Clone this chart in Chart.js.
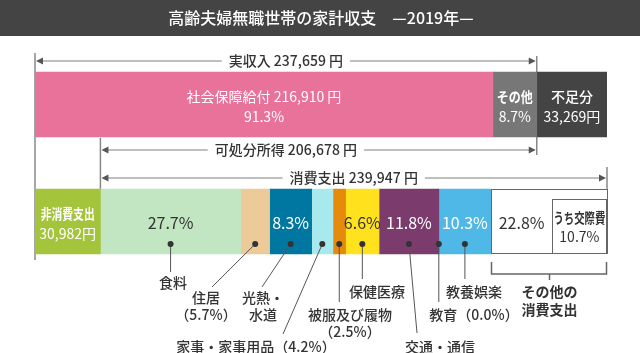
<!DOCTYPE html>
<html lang="ja">
<head>
<meta charset="utf-8">
<title>高齢夫婦無職世帯の家計収支</title>
<script src="https://cdn.jsdelivr.net/npm/chart.js@4.4.1/dist/chart.umd.min.js"></script>
<style>
  html, body { margin: 0; padding: 0; background: #fff; }
  canvas { display: block; }
</style>
</head>
<body>
<canvas id="budgetChart" width="640" height="353"></canvas>
<script>
// 高齢夫婦無職世帯の家計収支（2019年）

// 収入側（円）
const incomeLabels = ['社会保障給付', 'その他', '不足分'];
const incomeValues = [216910, 20749, 33269];
const incomeShares = [91.3, 8.7];
const realIncome = 237659;
const disposableIncome = 206678;

// 支出側（円・消費支出に占める割合 %）
const nonConsumption = 30982;
const consumptionTotal = 239947;
const consumptionLabels = ['食料', '住居', '光熱・水道', '家事・家事用品', '被服及び履物', '保健医療', '交通・通信', '教育', '教養娯楽', 'その他の消費支出', 'うち交際費'];
const consumptionShares = [27.7, 5.7, 8.3, 4.2, 2.5, 6.6, 11.8, 0.0, 10.3, 12.1, 10.7];
const otherConsumptionShare = 22.8;

// 色
const incomeColors = ['#e8729a', '#777777', '#444444'];
const nonConsumptionColor = '#a3c43b';
const consumptionColors = ['#c2e5c2', '#edcb98', '#0077a0', '#a8e9ee', '#e68a0b', '#ffe11e', '#7b3c6d', '#999999', '#4fb8e7', '#ffffff', '#ffffff'];

const FONT_FAMILY = '"Noto Sans CJK JP", "Noto Sans", sans-serif';
const font = (size, weight) => `${weight || 400} ${size}px ${FONT_FAMILY}`;
const fmt = v => v.toLocaleString('ja-JP');
const pct = v => v.toFixed(1) + '%';

// バー内の文字（fit: 見出しの最大幅）
const insideText = {
    '社会保障給付': { lines: [`${incomeLabels[0]} ${fmt(incomeValues[0])} 円`, pct(incomeShares[0])], color: '#fff' },
    'その他': { lines: ['その他', pct(incomeShares[1])], color: '#fff', weight: 700, fit: 36 },
    '不足分': { lines: ['不足分', fmt(incomeValues[2]) + '円'], color: '#fff', weight: 500 },
    '非消費支出': { lines: ['非消費支出', fmt(nonConsumption) + '円'], color: '#fff', weight: 700, fit: 54 },
    '食料': { lines: [pct(consumptionShares[0])], color: '#333' },
    '光熱・水道': { lines: [pct(consumptionShares[2])], color: '#fff' },
    '保健医療': { lines: [pct(consumptionShares[5])], color: '#333' },
    '交通・通信': { lines: [pct(consumptionShares[6])], color: '#fff' },
    '教養娯楽': { lines: [pct(consumptionShares[8])], color: '#fff' },
    'その他の消費支出': { lines: [pct(otherConsumptionShare)], color: '#333' }
};

// 引き出し線と項目名
const callouts = [
    { label: '食料', end: [null, 272], at: [173, 283], text: (n, p) => [n] },
    { label: '住居', end: [212, 287], at: [206, 298], text: (n, p) => [n, `（${p}）`] },
    { label: '光熱・水道', end: [262, 287], at: [263, 298], text: (n, p) => ['光熱・', '水道'] },
    { label: '家事・家事用品', end: [283, 334], at: [256, 347], text: (n, p) => [`${n}（${p}）`] },
    { label: '被服及び履物', end: [null, 302], at: [350, 315], text: (n, p) => [n, `（${p}）`] },
    { label: '保健医療', end: [null, 279], at: [377, 292], text: (n, p) => [n] },
    { label: '交通・通信', end: [417, 333], at: [440, 347], text: (n, p) => [n] },
    { label: '教育', end: [null, 302], at: [474, 315], text: (n, p) => [`${n}（${p}）`] },
    { label: '教養娯楽', end: [null, 279], at: [474, 292], text: (n, p) => [n] }
];

// データセットを組み立て
const datasets = [];
incomeLabels.forEach((name, i) => {
    datasets.push({ label: name, data: [incomeValues[i], null], backgroundColor: incomeColors[i] });
});
datasets.push({ label: '非消費支出', data: [null, nonConsumption], backgroundColor: nonConsumptionColor });
consumptionLabels.forEach((name, i) => {
    datasets.push({ label: name, data: [null, consumptionTotal * consumptionShares[i] / 100], backgroundColor: consumptionColors[i] });
});

function elementOf(chart, label) {
    const idx = chart.data.datasets.findIndex(d => d.label === label);
    const meta = chart.getDatasetMeta(idx);
    const row = chart.data.datasets[idx].data[0] != null ? 0 : 1;
    return meta.data[row];
}

function drawArrow(ctx, x1, x2, y, text, cx) {
    ctx.font = font(14, 500);
    const w = ctx.measureText(text).width;
    const gap = 7;
    ctx.strokeStyle = '#aaaaaa';
    ctx.lineWidth = 1.5;
    ctx.beginPath();
    ctx.moveTo(x1 + 5, y);
    ctx.lineTo(cx - w / 2 - gap, y);
    ctx.moveTo(cx + w / 2 + gap, y);
    ctx.lineTo(x2 - 5, y);
    ctx.stroke();
    ctx.fillStyle = '#555555';
    ctx.beginPath();
    ctx.moveTo(x1 + 1, y); ctx.lineTo(x1 + 8, y - 3.5); ctx.lineTo(x1 + 8, y + 3.5);
    ctx.fill();
    ctx.beginPath();
    ctx.moveTo(x2 - 1, y); ctx.lineTo(x2 - 8, y - 3.5); ctx.lineTo(x2 - 8, y + 3.5);
    ctx.fill();
    ctx.fillStyle = '#333333';
    ctx.textAlign = 'center';
    ctx.textBaseline = 'middle';
    ctx.fillText(text, cx, y);
}

const budgetPlugin = {
    id: 'budgetAnnotations',
    beforeDraw(chart) {
        // タイトルの帯
        const ctx = chart.ctx;
        ctx.save();
        ctx.fillStyle = '#444444';
        ctx.fillRect(0, 0, chart.width, 36);
        ctx.restore();
    },
    beforeDatasetsDraw(chart) {
        // 縦の補助線
        const ctx = chart.ctx;
        const x = chart.scales.x;
        const guides = [
            [x.getPixelForValue(0), 53, 260],
            [x.getPixelForValue(nonConsumption), 138, 189],
            [x.getPixelForValue(realIncome), 56, 155],
            [x.getPixelForValue(nonConsumption + consumptionTotal), 167, 189]
        ];
        ctx.save();
        ctx.strokeStyle = '#888888';
        ctx.lineWidth = 1.5;
        guides.forEach(([gx, y1, y2]) => {
            ctx.beginPath();
            ctx.moveTo(gx, y1);
            ctx.lineTo(gx, y2);
            ctx.stroke();
        });
        ctx.restore();
    },
    afterDatasetsDraw(chart) {
        const ctx = chart.ctx;
        const x = chart.scales.x;
        ctx.save();

        // その他の消費支出の枠
        const otherEl = elementOf(chart, 'その他の消費支出');
        const kosaiEl = elementOf(chart, 'うち交際費');
        const top = otherEl.y - otherEl.height / 2;
        const bottom = otherEl.y + otherEl.height / 2;
        ctx.strokeStyle = '#666666';
        ctx.lineWidth = 1;
        ctx.strokeRect(Math.round(otherEl.base) + 0.5, Math.round(top) + 0.5, Math.round(kosaiEl.x - otherEl.base), Math.round(bottom - top) - 1);
        ctx.strokeRect(Math.round(kosaiEl.base) + 0.5, Math.round(top) + 10.5, Math.round(kosaiEl.x - kosaiEl.base), Math.round(bottom - top) - 11);

        // バー内の文字
        chart.data.datasets.forEach(ds => {
            const spec = insideText[ds.label];
            if (!spec) return;
            const el = elementOf(chart, ds.label);
            const cx = (el.x + el.base) / 2;
            ctx.fillStyle = spec.color;
            ctx.textAlign = 'center';
            ctx.textBaseline = 'middle';
            if (spec.lines.length === 1) {
                ctx.font = font(16, 400);
                ctx.fillText(spec.lines[0], cx, el.y + 1);
            } else {
                ctx.font = font(14, spec.weight || 400);
                if (spec.fit) {
                    ctx.fillText(spec.lines[0], cx, el.y - 8, spec.fit);
                } else {
                    ctx.fillText(spec.lines[0], cx, el.y - 8);
                }
                ctx.font = font(14, 400);
                ctx.fillText(spec.lines[1], cx, el.y + 12);
            }
        });
        const kcx = (kosaiEl.x + kosaiEl.base) / 2;
        ctx.fillStyle = '#333333';
        ctx.font = font(14, 700);
        ctx.fillText('うち交際費', kcx, kosaiEl.y - 4, 52);
        ctx.font = font(14, 400);
        ctx.fillText(pct(consumptionShares[10]), kcx, kosaiEl.y + 15);

        // 矢印
        const x0 = x.getPixelForValue(0);
        const xNon = x.getPixelForValue(nonConsumption);
        const xInc = x.getPixelForValue(realIncome);
        const xEnd = x.getPixelForValue(nonConsumption + consumptionTotal);
        const incomeMid = (x0 + xInc) / 2;
        drawArrow(ctx, x0, xInc, 61, `実収入 ${fmt(realIncome)} 円`, incomeMid);
        drawArrow(ctx, xNon, xInc, 150, `可処分所得 ${fmt(disposableIncome)} 円`, incomeMid);
        drawArrow(ctx, xNon, xEnd, 178, `消費支出 ${fmt(consumptionTotal)} 円`, (xNon + xEnd) / 2);

        // 引き出し線
        const dotY = 244;
        callouts.forEach(c => {
            const el = elementOf(chart, c.label);
            const i = consumptionLabels.indexOf(c.label);
            const cx = (el.x + el.base) / 2;
            const ex = c.end[0] == null ? cx : c.end[0];
            ctx.strokeStyle = '#555555';
            ctx.lineWidth = 1;
            ctx.beginPath();
            ctx.moveTo(cx, dotY);
            ctx.lineTo(ex, c.end[1]);
            ctx.stroke();
            ctx.fillStyle = '#333333';
            ctx.beginPath();
            ctx.arc(cx, dotY, 3, 0, Math.PI * 2);
            ctx.fill();
            ctx.font = font(14, 500);
            ctx.textAlign = 'center';
            ctx.textBaseline = 'middle';
            c.text(c.label, pct(consumptionShares[i])).forEach((line, k) => {
                ctx.fillText(line, c.at[0], c.at[1] + k * 17);
            });
        });

        // その他の消費支出の括弧
        const bx1 = Math.round(otherEl.base) + 0.5;
        const bx2 = Math.round(kosaiEl.x) + 0.5;
        const bmid = Math.round((bx1 + bx2) / 2) + 0.5;
        ctx.strokeStyle = '#666666';
        ctx.lineWidth = 1.5;
        ctx.beginPath();
        ctx.moveTo(bx1, bottom + 8);
        ctx.lineTo(bx1, bottom + 20);
        ctx.lineTo(bx2, bottom + 20);
        ctx.lineTo(bx2, bottom + 8);
        ctx.moveTo(bmid, bottom + 20);
        ctx.lineTo(bmid, bottom + 26);
        ctx.stroke();
        ctx.fillStyle = '#333333';
        ctx.font = font(14, 700);
        ctx.fillText('その他の', bmid, 292);
        ctx.fillText('消費支出', bmid, 310);

        ctx.restore();
    }
};

new Chart(document.getElementById('budgetChart'), {
    type: 'bar',
    data: { labels: ['収入', '支出'], datasets: datasets },
    options: {
        indexAxis: 'y',
        responsive: false,
        animation: false,
        layout: { padding: { left: 35, right: 33, top: 0, bottom: 73 } },
        datasets: { bar: { barThickness: 65, borderWidth: 0 } },
        scales: {
            x: { stacked: true, min: 0, max: nonConsumption + consumptionTotal, display: false },
            y: { stacked: true, display: false }
        },
        plugins: {
            legend: { display: false },
            tooltip: { enabled: false },
            title: {
                display: true,
                text: '高齢夫婦無職世帯の家計収支　—2019年—',
                color: '#ffffff',
                font: { family: FONT_FAMILY, size: 16, weight: 500, lineHeight: 1.2 },
                padding: { top: 8.4, bottom: 18.4 }
            }
        }
    },
    plugins: [budgetPlugin]
});
</script>
</body>
</html>
